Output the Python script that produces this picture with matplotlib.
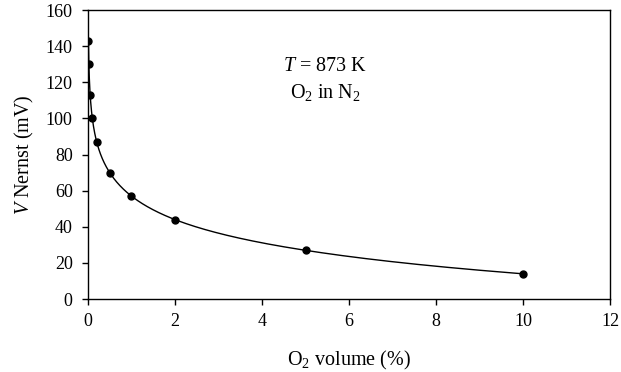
import numpy as np
import matplotlib
matplotlib.use("Agg")
import matplotlib.pyplot as plt

plt.rcParams['font.family'] = ['Liberation Serif', 'DejaVu Serif']
plt.rcParams['mathtext.fontset'] = 'custom'
plt.rcParams['mathtext.rm'] = 'Liberation Serif'
plt.rcParams['mathtext.it'] = 'Liberation Serif:italic'

# O2 volume (%) and Nernst voltage (mV)
o2_volume = [0.01, 0.02, 0.05, 0.1, 0.2, 0.5, 1, 2, 5, 10]
v_nernst = [143, 130, 113, 100, 87, 70, 57, 44, 27, 14]
x_ticks = [0, 2, 4, 6, 8, 10, 12]
y_ticks = [0, 20, 40, 60, 80, 100, 120, 140, 160]

fig = plt.figure(figsize=(6.21, 3.72), dpi=100)
ax = fig.add_axes([0.1417, 0.196, 0.8406, 0.777])

# smooth line: interpolate between the points in log(x)
lx = np.log(o2_volume)
xs = np.linspace(lx[0], lx[-1], 400)
ys = np.interp(xs, lx, v_nernst)
ax.plot(np.exp(xs), ys, color='black', lw=1.0)
ax.plot(o2_volume, v_nernst, 'o', color='black', markersize=5)

ax.set_xlim(0, 12)
ax.set_ylim(0, 160)
ax.set_xticks(x_ticks)
ax.set_yticks(y_ticks)
ax.tick_params(direction='out', length=4, width=1, labelsize=13, top=False, right=False)
ax.tick_params(axis='x', pad=6)
ax.tick_params(axis='y', pad=7)
for s in ax.spines.values():
    s.set_linewidth(1)

ax.set_xlabel(r'O$_2$ volume (%)', fontsize=14.5, labelpad=14)
ax.set_ylabel(r'$\mathit{V}$ Nernst (mV)', fontsize=14.5, labelpad=7)

ax.text(5.45, 128.5, r'$\mathit{T}$ = 873 K', ha='center', va='center', fontsize=14.5)
ax.text(5.45, 114.5, r'O$_2$ in N$_2$', ha='center', va='center', fontsize=14.5)

fig.savefig('out.png', dpi=100)
